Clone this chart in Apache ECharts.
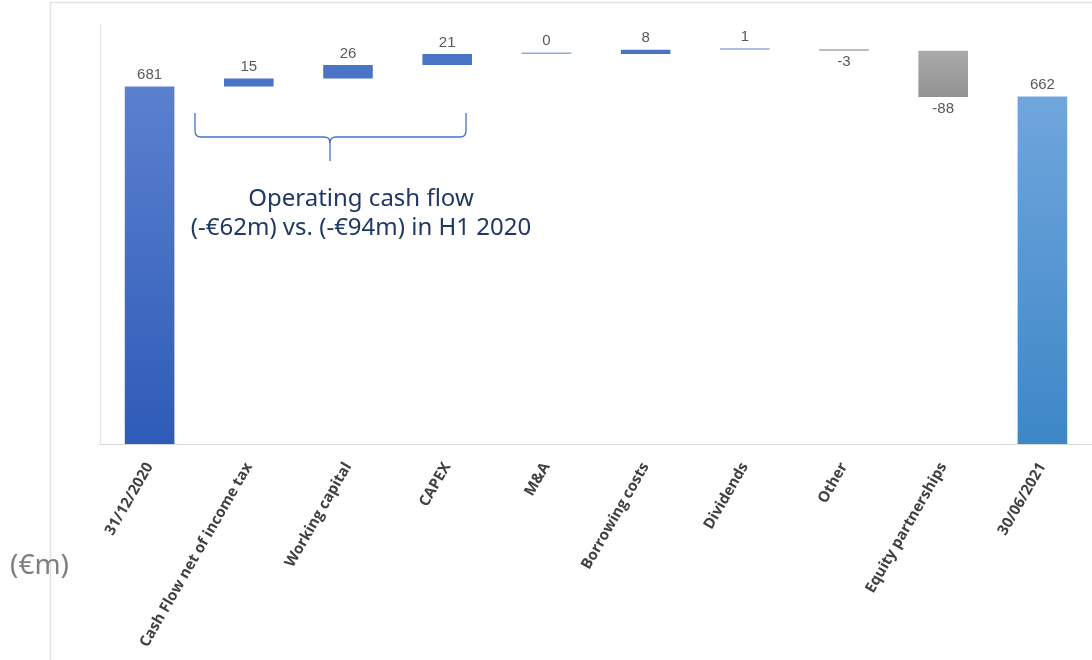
<!DOCTYPE html>
<html>
<head>
<meta charset="utf-8">
<script src="https://cdn.jsdelivr.net/npm/echarts@6/dist/echarts.min.js"></script>
<style>
  html, body { margin: 0; padding: 0; background: #fff; }
  #cashBridge { width: 1092px; height: 660px; }
</style>
</head>
<body>
<div id="cashBridge"></div>
<script>
// net debt / cash bridge (in €m)
var categories = ['31/12/2020', 'Cash Flow net of income tax', 'Working capital', 'CAPEX', 'M&A',
  'Borrowing costs', 'Dividends', 'Other', 'Equity partnerships', '30/06/2021']
var changes = [681, 15, 26, 21, 0, 8, 1, -3, -88, 662]
var isTotal = [true, false, false, false, false, false, false, false, false, true]
var yMax = 800

// build invisible base + visible part of each step
var baseData = []
var barData = []
var running = 0
changes.forEach(function (v, i) {
  if (isTotal[i]) {
    baseData.push(0)
    barData.push(v)
    running = v
  } else if (v >= 0) {
    baseData.push(running)
    barData.push(v)
    running += v
  } else {
    running += v
    baseData.push(running)
    barData.push(-v)
  }
})

function grad (top, bottom) {
  return {
    type: 'linear', x: 0, y: 0, x2: 0, y2: 1,
    colorStops: [{ offset: 0, color: top }, { offset: 1, color: bottom }]
  }
}

var chart = echarts.init(document.getElementById('cashBridge'))

var visible = barData.map(function (h, i) {
  var v = changes[i]
  var color
  if (i === 0) color = grad('#5b80cf', '#2e5bb8')
  else if (isTotal[i]) color = grad('#70a6dd', '#3d87c7')
  else if (v < -10) color = grad('#aaaaaa', '#929292')
  else if (v < 0) color = '#a6a6a6'
  else if (v <= 1) color = '#8faadc'
  else color = '#4a74c6'
  return {
    value: h,
    itemStyle: { color: color },
    label: { position: v < 0 ? 'bottom' : 'top' }
  }
})

var braceStyle = { stroke: '#4472c4', lineWidth: 1.3 }

chart.setOption({
  animation: false,
  grid: { left: 100, right: 0, top: 24, bottom: 216 },
  xAxis: {
    type: 'category',
    data: categories,
    axisLine: { lineStyle: { color: '#d9d9d9', width: 1 } },
    axisTick: { show: false },
    axisLabel: {
      rotate: 60,
      margin: 20,
      interval: 0,
      color: '#404040',
      fontFamily: 'Open Sans',
      fontWeight: 'bold',
      fontSize: 15
    }
  },
  yAxis: {
    type: 'value',
    min: 0,
    max: yMax,
    axisLine: { show: true, lineStyle: { color: '#e3e3e3', width: 1 } },
    axisTick: { show: false },
    axisLabel: { show: false },
    splitLine: { show: false }
  },
  series: [
    {
      type: 'bar',
      stack: 'wf',
      data: baseData,
      itemStyle: { color: 'transparent' },
      silent: true
    },
    {
      type: 'bar',
      stack: 'wf',
      barWidth: '50%',
      barMinHeight: 1.5,
      data: visible,
      label: {
        show: true,
        distance: 4,
        color: '#595959',
        fontFamily: 'Liberation Sans',
        fontSize: 15,
        formatter: function (p) { return String(changes[p.dataIndex]) }
      }
    }
  ],
  graphic: [
    // slide frame
    { type: 'line', shape: { x1: 50, y1: 2.5, x2: 1092, y2: 2.5 }, style: { stroke: '#e2e2e2', lineWidth: 1.5 } },
    { type: 'line', shape: { x1: 50.5, y1: 2, x2: 50.5, y2: 660 }, style: { stroke: '#e2e2e2', lineWidth: 1.5 } },
    // brace over operating items
    { type: 'line', shape: { x1: 195, y1: 113, x2: 195, y2: 131 }, style: braceStyle },
    { type: 'bezierCurve', shape: { x1: 195, y1: 131, cpx1: 195, cpy1: 137, x2: 201, y2: 137 }, style: braceStyle },
    { type: 'line', shape: { x1: 201, y1: 137, x2: 324, y2: 137 }, style: braceStyle },
    { type: 'bezierCurve', shape: { x1: 324, y1: 137, cpx1: 330, cpy1: 137, x2: 330, y2: 143 }, style: braceStyle },
    { type: 'bezierCurve', shape: { x1: 336, y1: 137, cpx1: 330, cpy1: 137, x2: 330, y2: 143 }, style: braceStyle },
    { type: 'line', shape: { x1: 330, y1: 143, x2: 330, y2: 161 }, style: braceStyle },
    { type: 'line', shape: { x1: 336, y1: 137, x2: 460, y2: 137 }, style: braceStyle },
    { type: 'bezierCurve', shape: { x1: 460, y1: 137, cpx1: 466, cpy1: 137, x2: 466, y2: 131 }, style: braceStyle },
    { type: 'line', shape: { x1: 466, y1: 131, x2: 466, y2: 113 }, style: braceStyle },
    {
      type: 'text',
      x: 361,
      y: 185,
      style: {
        text: 'Operating cash flow\n(-€62m) vs. (-€94m) in H1 2020',
        align: 'center',
        fill: '#203864',
        font: '24px "Noto Sans"',
        lineHeight: 29
      }
    },
    {
      type: 'text',
      x: 10,
      y: 552,
      style: {
        text: '(€m)',
        fill: '#7f7f7f',
        font: '28px "Noto Sans"'
      }
    }
  ]
})
</script>
</body>
</html>
